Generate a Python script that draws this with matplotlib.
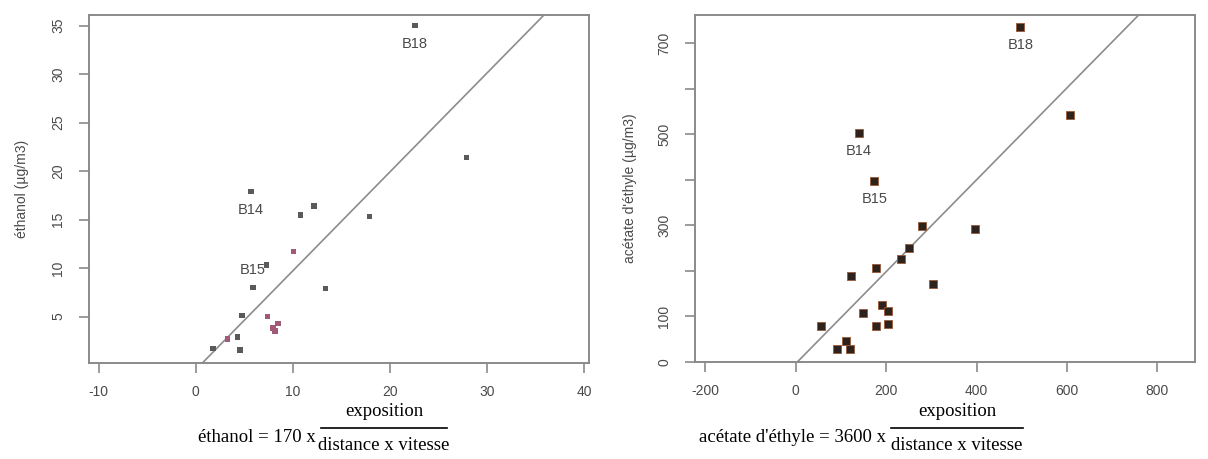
import matplotlib
matplotlib.use("Agg")
import matplotlib.pyplot as plt
from matplotlib.lines import Line2D

plt.rcParams["font.family"] = ["Liberation Sans", "DejaVu Sans"]
plt.rcParams["axes.unicode_minus"] = False

# --- left panel: ethanol ---
eth_x = [22.6, 27.9, 5.7, 12.2, 10.8, 17.9, 10.1, 7.3, 13.4, 5.9,
         4.8, 7.4, 8.0, 8.5, 8.2, 4.3, 3.3, 4.6, 1.8]
eth_y = [35.0, 21.4, 17.9, 16.4, 15.5, 15.3, 11.7, 10.3, 7.9, 8.0,
         5.1, 5.0, 3.8, 4.3, 3.5, 2.9, 2.7, 1.55, 1.7]
eth_pink = [False, False, False, False, False, False, True, False, False, False,
            False, True, True, True, True, False, True, False, False]
eth_labels = {0: "B18", 2: "B14", 9: "B15"}
eth_line = (1.02, -0.5)  # slope, intercept

# --- right panel: ethyl acetate ---
ace_x = [497, 607, 140, 174, 279, 396, 250, 233, 178, 122,
         304, 190, 203, 149, 204, 178, 56, 110, 90, 120]
ace_y = [736, 542, 502, 398, 299, 292, 249, 226, 207, 188,
         170, 125, 111, 108, 83, 78, 79, 45, 29, 27]
ace_labels = {0: "B18", 2: "B14", 3: "B15"}
ace_line = (1.01, -4.0)

W, H = 1208, 459
fig = plt.figure(figsize=(W / 100, H / 100), dpi=100)

axis_col = "#8a8a8a"
text_col = "#4a4a4a"


def style(ax):
    for sp in ax.spines.values():
        sp.set_color(axis_col)
        sp.set_linewidth(1.4)
    ax.tick_params(colors=axis_col, labelcolor=text_col, length=7, width=1.2,
                   labelsize=10)
    ax.tick_params(axis="y", labelrotation=90, pad=10)
    ax.tick_params(axis="x", pad=9)
    for t in ax.get_yticklabels():
        t.set_va("center")


# left
ax1 = fig.add_axes([88.8 / W, 1 - 362.7 / H, 500 / W, 347.7 / H])
cols = ["#a05a78" if p else "#5a5a5a" for p in eth_pink]
ax1.scatter(eth_x, eth_y, s=16, marker="s", c=cols, edgecolors="none", zorder=3)
ax1.axline((0, eth_line[1]), slope=eth_line[0], color="#8c8c8c", lw=1.2)
for i, name in eth_labels.items():
    dy = 1.8 if name == "B15" else -1.9
    ax1.text(eth_x[i], eth_y[i] + dy, name, ha="center", va="center",
             fontsize=10.5, color=text_col)
ax1.set_xlim(-11.0, 40.5)
ax1.set_ylim(0.24, 36.1)
ax1.set_xticks([-10, 0, 10, 20, 30, 40])
ax1.set_yticks([5, 10, 15, 20, 25, 30, 35])
ax1.set_ylabel("éthanol (µg/m3)", fontsize=10, color=text_col, labelpad=16)
style(ax1)

# right
ax2 = fig.add_axes([695 / W, 1 - 361.7 / H, 500 / W, 346.7 / H])
ax2.scatter(ace_x, ace_y, s=30, marker="s", c="#2e221c", edgecolors="#9a5a36",
            linewidths=0.6, zorder=3)
ax2.axline((0, ace_line[1]), slope=ace_line[0], color="#8c8c8c", lw=1.2)
for i, name in ace_labels.items():
    ax2.text(ace_x[i], ace_y[i] - 40, name, ha="center", va="center",
             fontsize=10.5, color=text_col)
ax2.set_xlim(-223, 883)
ax2.set_ylim(0, 762)
ax2.set_xticks([-200, 0, 200, 400, 600, 800])
ax2.set_yticks([0, 100, 200, 300, 400, 500, 600, 700])
ax2.set_yticklabels(["0", "100", "", "300", "", "500", "", "700"])
ax2.set_ylabel("acétate d'éthyle (µg/m3)", fontsize=10, color=text_col,
               labelpad=15)
style(ax2)

# formulas
serif = ["Liberation Serif", "DejaVu Serif"]
fs = 13.5


def formula(prefix, x_right, x0, x1):
    fig.text(x_right / W, 1 - 437 / H, prefix, ha="right", va="center",
             family=serif, fontsize=fs)
    xc = (x0 + x1) / 2 / W
    fig.text(xc, 1 - 412 / H, "exposition", ha="center", va="center",
             family=serif, fontsize=fs)
    fig.add_artist(Line2D([x0 / W, x1 / W], [1 - 428 / H, 1 - 428 / H],
                          color="black", lw=1.2))
    fig.text(xc, 1 - 445 / H, "distance x vitesse", ha="center", va="center",
             family=serif, fontsize=fs)


formula("éthanol = 170 x", 316, 321, 447)
formula("acétate d'éthyle = 3600 x", 886, 891, 1023)

fig.savefig("out.png", dpi=100)
